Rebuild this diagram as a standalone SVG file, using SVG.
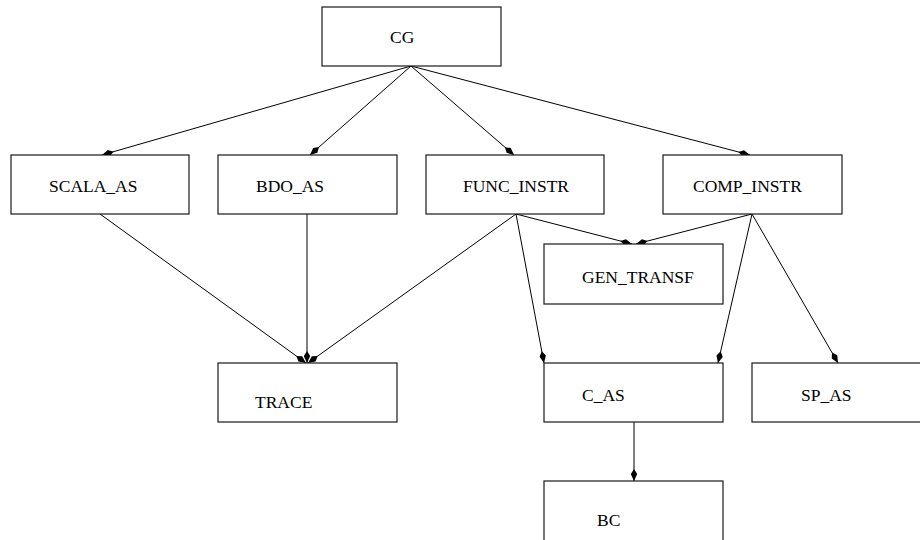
<svg xmlns="http://www.w3.org/2000/svg" width="920" height="540" viewBox="0 0 920 540">
  <style>
    .box { fill: #ffffff; stroke: #1a1a1a; stroke-width: 1.2; }
    .lbl { font-family: "Liberation Serif", "Times New Roman", serif; font-size: 17.5px; fill: #000000; }
    .edge { fill: none; stroke: #000000; stroke-width: 1; marker-end: url(#head); }
  </style>
  <defs>
    <marker id="head" viewBox="0 0 12 7" refX="12" refY="3.5" markerWidth="12" markerHeight="7" markerUnits="userSpaceOnUse" orient="auto">
      <path d="M0,3.5 L5,0.3 L12,3.5 L5,6.7 Z" fill="#000000"/>
    </marker>
  </defs>
  <rect width="920" height="540" fill="#ffffff"/>

  <g id="connectors">
    <line class="edge" x1="411" y1="66" x2="102" y2="155"/>
    <line class="edge" x1="411" y1="66" x2="310" y2="155"/>
    <line class="edge" x1="411" y1="66" x2="514" y2="155"/>
    <line class="edge" x1="411" y1="66" x2="750" y2="155"/>
    <line class="edge" x1="100" y1="214" x2="306" y2="363"/>
    <line class="edge" x1="307" y1="214" x2="307" y2="363"/>
    <line class="edge" x1="516" y1="214" x2="308" y2="363"/>
    <line class="edge" x1="516" y1="214" x2="632" y2="244"/>
    <line class="edge" x1="752" y1="214" x2="636" y2="244"/>
    <line class="edge" x1="516" y1="214" x2="544" y2="363"/>
    <line class="edge" x1="752" y1="214" x2="718" y2="363"/>
    <line class="edge" x1="752" y1="214" x2="838" y2="363"/>
    <line class="edge" x1="634" y1="422" x2="634" y2="481"/>
  </g>

  <g id="CG">
    <rect class="box" x="322" y="7" width="179" height="59"/>
    <text class="lbl" x="390" y="43">CG</text>
  </g>
  <g id="SCALA_AS">
    <rect class="box" x="11" y="155" width="178" height="59"/>
    <text class="lbl" x="49" y="192">SCALA_AS</text>
  </g>
  <g id="BDO_AS">
    <rect class="box" x="218" y="155" width="179" height="59"/>
    <text class="lbl" x="256" y="192">BDO_AS</text>
  </g>
  <g id="FUNC_INSTR">
    <rect class="box" x="426" y="155" width="178" height="59"/>
    <text class="lbl" x="463" y="192">FUNC_INSTR</text>
  </g>
  <g id="COMP_INSTR">
    <rect class="box" x="663" y="155" width="179" height="59"/>
    <text class="lbl" x="693" y="192">COMP_INSTR</text>
  </g>
  <g id="GEN_TRANSF">
    <rect class="box" x="544" y="244" width="179" height="60"/>
    <text class="lbl" x="582" y="283">GEN_TRANSF</text>
  </g>
  <g id="TRACE">
    <rect class="box" x="218" y="363" width="179" height="59"/>
    <text class="lbl" x="255" y="408">TRACE</text>
  </g>
  <g id="C_AS">
    <rect class="box" x="544" y="363" width="179" height="59"/>
    <text class="lbl" x="582" y="401">C_AS</text>
  </g>
  <g id="SP_AS">
    <rect class="box" x="752" y="363" width="179" height="59"/>
    <text class="lbl" x="801" y="401">SP_AS</text>
  </g>
  <g id="BC">
    <rect class="box" x="544" y="481" width="179" height="70"/>
    <text class="lbl" x="597" y="526">BC</text>
  </g>
</svg>
